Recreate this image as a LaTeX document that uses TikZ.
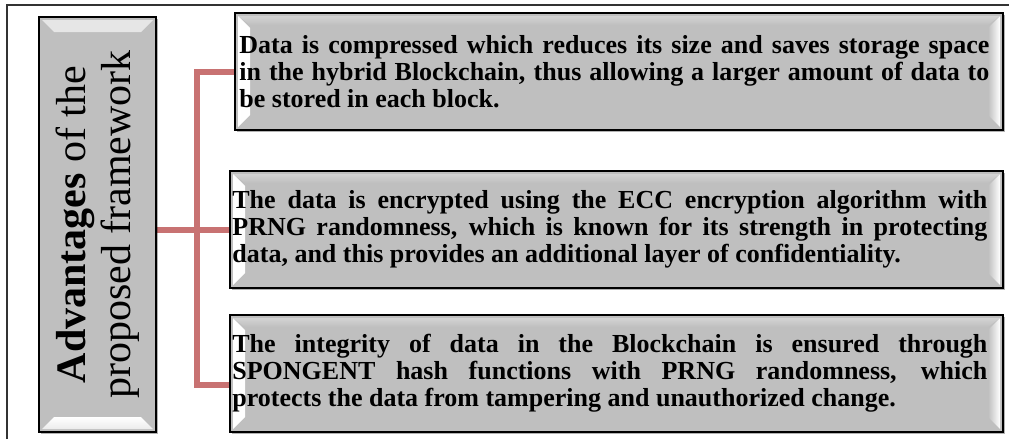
\documentclass[tikz,border=0pt]{standalone}
\usepackage{fontspec}
\setmainfont{Liberation Serif}
\usetikzlibrary{calc,shadows,backgrounds}

\definecolor{boxgray}{gray}{0.75}
\definecolor{linkred}{RGB}{200,114,114}
\definecolor{framegray}{gray}{0.2}

\tikzset{
  panel/.style={draw=black, line width=1.6pt, fill=boxgray, inner sep=0pt,
    drop shadow={shadow xshift=1.5pt, shadow yshift=-2pt, opacity=.3, fill=black}},
  % highlights on the short (left/right) sides of a wide panel
  hbevel/.style={path picture={
    \shade[left color=white, right color=boxgray]
      let \p1=(path picture bounding box.north west),
          \p2=(path picture bounding box.south east) in
      (\x1+3pt,\y1-3pt) -- (\x1+15pt,\y1-15pt) -- (\x1+15pt,\y2+15pt)
      -- (\x1+3pt,\y2+3pt) -- cycle;
    \shade[left color=boxgray, right color=white]
      let \p1=(path picture bounding box.north west),
          \p2=(path picture bounding box.south east) in
      (\x2-3pt,\y1-3pt) -- (\x2-15pt,\y1-15pt) -- (\x2-15pt,\y2+15pt)
      -- (\x2-3pt,\y2+3pt) -- cycle;
    \shade[top color=white!45!boxgray, bottom color=boxgray, opacity=.7]
      let \p1=(path picture bounding box.north west),
          \p2=(path picture bounding box.south east) in
      (\x1+3pt,\y1-3pt) -- (\x2-3pt,\y1-3pt) -- (\x2-15pt,\y1-12pt)
      -- (\x1+15pt,\y1-12pt) -- cycle;
  }},
  % highlights on the short (top/bottom) sides of a tall panel
  vbevel/.style={path picture={
    \shade[top color=white!60!boxgray, bottom color=white]
      let \p1=(path picture bounding box.north west),
          \p2=(path picture bounding box.south east) in
      (\x1+3pt,\y1-3pt) -- (\x2-3pt,\y1-3pt) -- (\x2-15pt,\y1-15pt)
      -- (\x1+15pt,\y1-15pt) -- cycle;
    \shade[top color=white, bottom color=white!70!boxgray]
      let \p1=(path picture bounding box.north west),
          \p2=(path picture bounding box.south east) in
      (\x1+3pt,\y2+3pt) -- (\x2-3pt,\y2+3pt) -- (\x2-15pt,\y2+15pt)
      -- (\x1+15pt,\y2+15pt) -- cycle;
  }},
  bodytext/.style={font=\fontsize{26}{27}\selectfont\bfseries, align=justify,
    inner sep=0pt, anchor=west},
  titletext/.style={font=\fontsize{42}{45}\selectfont, align=center, inner sep=0pt},
  conn/.style={draw=linkred, line width=6pt, line join=miter},
  frame/.style={draw=framegray, line width=1.5pt},
}

\begin{document}
\begin{tikzpicture}[x=1pt, y=-1pt]
\useasboundingbox (0,0) rectangle (1009,439);

% outer frame
\coordinate (fbl) at (7,439);
\coordinate (ftl) at (7,5);
\coordinate (ftr) at (1009,5);
\draw[frame] (fbl) -- (ftl) -- (ftr);

% panels
\node[panel, vbevel, minimum width=117pt, minimum height=415pt] (lb) at (97.5,224.5) {};
\node[panel, hbevel, minimum width=768pt, minimum height=117pt] (b1) at (619,71.5) {};
\node[panel, hbevel, minimum width=773pt, minimum height=117pt] (b2) at (616.5,229.5) {};
\node[panel, hbevel, minimum width=773pt, minimum height=117pt] (b3) at (616.5,373.5) {};

% vertical title
\node[titletext, rotate=90] (title) at (lb) {\textbf{Advantages} of the\\proposed framework};

% panel texts
\node[bodytext, text width=750pt] (t1) at ([xshift=5pt]b1.west)
  {Data is compressed which reduces its size and saves storage space\linebreak
   in the hybrid Blockchain, thus allowing a larger amount of data to\linebreak
   be stored in each block.};
\node[bodytext, text width=755pt] (t2) at ([xshift=3pt]b2.west)
  {The data is encrypted using the ECC encryption algorithm with\linebreak
   PRNG randomness, which is known for its strength in protecting\linebreak
   data, and this provides an additional layer of confidentiality.};
\node[bodytext, text width=755pt] (t3) at ([xshift=3pt]b3.west)
  {The integrity of data in the Blockchain is ensured through\linebreak
   SPONGENT hash functions with PRNG randomness, which\linebreak
   protects the data from tampering and unauthorized change.};

% connectors
\coordinate (bus) at (197,0);
\coordinate (c3) at ($(b3.west)+(0,11)$);
\begin{scope}[on background layer]
  \draw[conn] (b1.west) -- (bus |- b1.west) -- (bus |- c3) -- (c3);
  \draw[conn] (lb.east |- b2.west) -- (b2.west);
\end{scope}
\end{tikzpicture}
\end{document}
